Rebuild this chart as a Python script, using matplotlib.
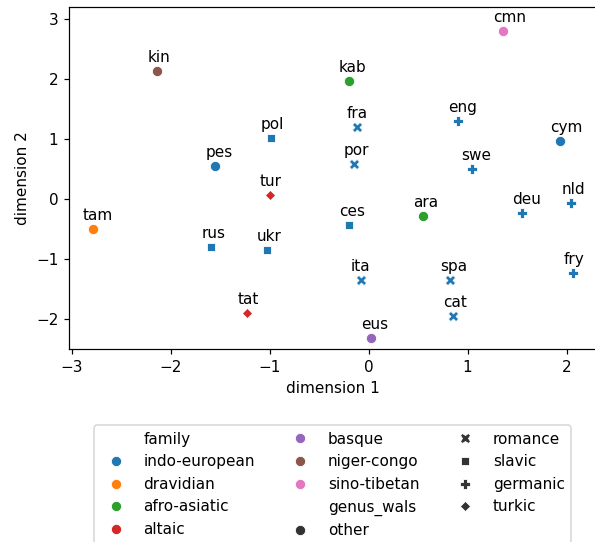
import matplotlib
matplotlib.use("Agg")
import matplotlib.pyplot as plt
from matplotlib.lines import Line2D

# language embedding coordinates
LANGS = ["kin", "kab", "pol", "pes", "tur", "fra", "por", "cmn", "eng", "cym", "swe", "tam",
         "rus", "ukr", "tat", "ces", "ara", "deu", "nld", "ita", "spa", "fry", "cat", "eus"]
DIM1 = [-2.14, -0.20, -0.99, -1.55, -1.00, -0.12, -0.15, 1.36, 0.90, 1.93, 1.04, -2.79,
        -1.59, -1.03, -1.23, -0.20, 0.55, 1.55, 2.05, -0.08, 0.82, 2.07, 0.85, 0.02]
DIM2 = [2.14, 1.98, 1.03, 0.55, 0.08, 1.21, 0.59, 2.80, 1.31, 0.97, 0.50, -0.50,
        -0.79, -0.85, -1.90, -0.43, -0.27, -0.22, -0.06, -1.35, -1.35, -1.23, -1.95, -2.31]
FAMILY = ["niger-congo", "afro-asiatic", "indo-european", "indo-european", "altaic",
          "indo-european", "indo-european", "sino-tibetan", "indo-european", "indo-european",
          "indo-european", "dravidian", "indo-european", "indo-european", "altaic",
          "indo-european", "afro-asiatic", "indo-european", "indo-european", "indo-european",
          "indo-european", "indo-european", "indo-european", "basque"]
GENUS = ["other", "other", "slavic", "other", "turkic", "romance", "romance", "other",
         "germanic", "other", "germanic", "other", "slavic", "slavic", "turkic", "slavic",
         "other", "germanic", "germanic", "romance", "romance", "germanic", "romance", "other"]

FAMILY_ORDER = ["indo-european", "dravidian", "afro-asiatic", "altaic", "basque",
                "niger-congo", "sino-tibetan"]
GENUS_ORDER = ["other", "romance", "slavic", "germanic", "turkic"]

FAMILY_COLOR = {f: f"C{i}" for i, f in enumerate(FAMILY_ORDER)}
# seaborn's default style markers: circle, X, square (4-gon rotated), plus, diamond
GENUS_MARKER = dict(zip(GENUS_ORDER, ["o", "X", (4, 0, 45), "P", (4, 0, 0)]))

DPI = 110
SIZE = 45
EDGE_LW = 0.08 * SIZE ** 0.5

fig = plt.figure(figsize=(595 / DPI, 542 / DPI), dpi=DPI)
ax = fig.add_axes([0.116, 0.3555, 0.886, 0.632])

for lang, x, y, fam, gen in zip(LANGS, DIM1, DIM2, FAMILY, GENUS):
    ax.scatter(x, y, s=SIZE, c=FAMILY_COLOR[fam], marker=GENUS_MARKER[gen],
               edgecolors="w", linewidths=EDGE_LW, zorder=3)
    ax.text(x - 0.1, y + 0.1, lang, ha="left", va="bottom")

ax.set_xlim(-3.03, 2.30)
ax.set_ylim(-2.5, 3.21)
ax.set_xlabel("dimension 1")
ax.set_ylabel("dimension 2")

# seaborn-style legend: subtitle rows with empty handles
blank = Line2D([], [], linestyle="", marker="")
handles, labels = [blank], ["family"]
for fam in FAMILY_ORDER:
    handles.append(Line2D([], [], linestyle="", marker="o", markersize=SIZE ** 0.5,
                          color=FAMILY_COLOR[fam], markeredgecolor="w",
                          markeredgewidth=EDGE_LW))
    labels.append(fam)
handles.append(Line2D([], [], linestyle="", marker=""))
labels.append("genus_wals")
for gen in GENUS_ORDER:
    handles.append(Line2D([], [], linestyle="", marker=GENUS_MARKER[gen],
                          markersize=SIZE ** 0.5, color=".2", markeredgecolor="w",
                          markeredgewidth=EDGE_LW))
    labels.append(gen)
ax.legend(handles, labels, loc="upper center", bbox_to_anchor=(0.5, -0.2), ncol=3)

fig.savefig("out.png", dpi=DPI)
